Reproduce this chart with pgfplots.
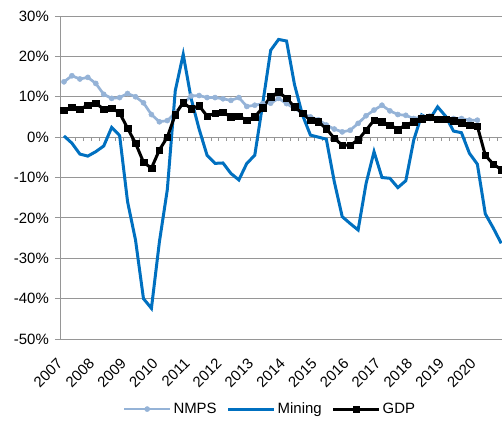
\documentclass[border=0pt]{standalone}
\usepackage{pgfplots}
\pgfplotsset{compat=1.18}
\usepackage{pgfplotstable}
\usepackage{fontspec}
\setmainfont{Liberation Sans}

\definecolor{nmps}{HTML}{95B3D7}
\definecolor{mining}{HTML}{0070C0}
\definecolor{gridgray}{HTML}{969696}

% Quarterly year-on-year growth, 2007Q1 onwards (one value per quarter)
\pgfplotstableread{
v
13.7
15.2
14.4
14.8
13.3
10.6
9.6
9.8
10.8
10.0
8.5
5.6
3.8
4.1
6.0
8.3
10.2
10.3
9.8
9.8
9.5
9.1
9.8
7.6
7.9
8.3
8.4
9.6
8.3
7.1
5.9
5.0
4.3
3.0
2.0
1.3
1.7
3.4
5.3
6.7
7.9
6.5
5.6
5.4
4.6
5.0
5.2
4.6
4.6
4.6
4.6
4.2
4.2
}\nmpstab

\pgfplotstableread{
v
0.3
-1.5
-4.2
-4.7
-3.6
-2.2
2.4
0.4
-16.0
-25.5
-40.0
-42.4
-26.0
-13.0
11.5
20.5
9.5
2.0
-4.5
-6.5
-6.4
-9.0
-10.6
-6.5
-4.5
8.3
21.5
24.2
23.8
13.0
5.5
0.5
0.0
-0.5
-11.0
-19.7
-21.4
-23.0
-11.5
-3.6
-10.0
-10.2
-12.5
-10.8
-0.7
5.5
4.4
7.5
5.2
1.5
1.1
-4.0
-6.7
-19.0
-22.5
-26.3
}\miningtab

\pgfplotstableread{
v
6.7
7.4
6.9
7.9
8.4
6.9
7.2
6.0
2.2
-1.5
-6.2
-7.7
-3.2
0.0
5.6
8.6
7.0
7.8
5.2
5.9
6.2
5.0
5.2
4.2
5.0
7.3
10.0
11.2
9.6
7.5
5.9
4.2
3.8
2.1
-0.3
-2.0
-2.0
-0.7
1.7
4.2
3.8
3.0
1.9
3.0
3.8
4.6
4.9
4.4
4.4
4.0
3.6
3.0
2.7
-4.5
-6.7
-8.0
}\gdptab

\begin{document}
\begin{tikzpicture}
\begin{axis}[
  name=ax, at={(0,0)}, anchor=south west,
  scale only axis, width=442bp, height=323bp,
  xmin=-0.5, xmax=55.1, ymin=-50, ymax=30,
  axis lines=left,
  axis line style={-, draw=gridgray, line width=1bp},
  x axis line style={draw=none},
  ytick={-50,-40,...,30},
  yticklabels={-50\%,-40\%,-30\%,-20\%,-10\%,0\%,10\%,20\%,30\%},
  xtick={0,4,...,52},
  xticklabels={2007,2008,2009,2010,2011,2012,2013,2014,2015,2016,2017,2018,2019,2020},
  xtick style={draw=none},
  ytick style={draw=gridgray, line width=1bp},
  tick align=outside, major tick length=5bp,
  ymajorgrids, grid style={gridgray, line width=1bp},
  font=\fontsize{15}{18}\selectfont,
  tick label style={font=\fontsize{15}{18}\selectfont},
  yticklabel style={inner sep=0pt, xshift=-6bp},
  xticklabel style={xshift=-4bp, yshift=-17bp, rotate=45, anchor=east, inner sep=0pt},
  legend columns=3,
  legend style={draw=none, fill=none, at={(axis description cs:0.475,-0.217)}, anchor=center,
    font=\fontsize{15}{18}\selectfont, nodes={inner sep=2bp},
    /tikz/every even column/.append style={column sep=8bp}},
  legend image code/.code={\draw[mark repeat=2,mark phase=2,#1] plot coordinates {(0bp,0bp) (23bp,0bp) (46bp,0bp)};},
]
% quarter divisions along the zero line
\pgfplotsinvokeforeach{0,...,54}{
  \draw[gridgray, line width=1bp] (axis cs:#1.5,0) -- ([yshift=-4bp]axis cs:#1.5,0);
}
\addplot[color=nmps, line width=2.7bp, mark=*, mark size=2.6bp, mark options={line width=0.4bp}]
  table[x expr=\coordindex, y=v] {\nmpstab};
\addlegendentry{NMPS}
\addplot[color=mining, line width=3bp, no marks]
  table[x expr=\coordindex, y=v] {\miningtab};
\addlegendentry{Mining}
\addplot[color=black, line width=3bp, mark=square*, mark size=3.3bp, mark options={line width=0.4bp}]
  table[x expr=\coordindex, y=v] {\gdptab};
\addlegendentry{GDP}
\end{axis}
\pgfresetboundingbox
\path[use as bounding box] (-60bp,-83bp) rectangle (442bp,339bp);
\end{tikzpicture}
\end{document}
